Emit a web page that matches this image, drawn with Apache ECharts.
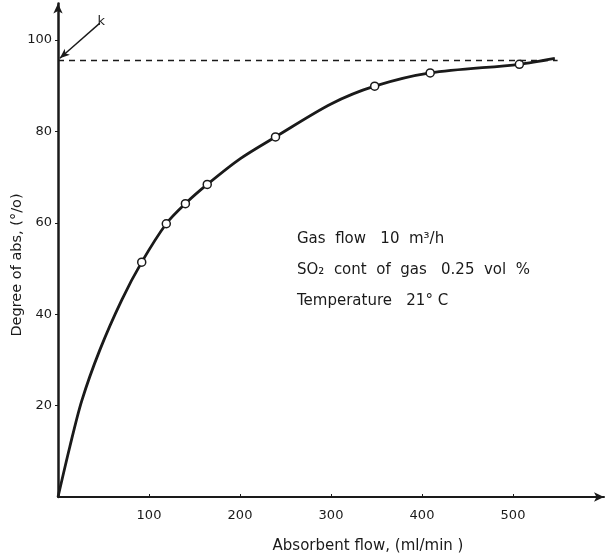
<!DOCTYPE html>
<html>
<head>
<meta charset="utf-8">
<script src="https://cdn.jsdelivr.net/npm/echarts@6/dist/echarts.min.js"></script>
<style>
  html, body { margin: 0; padding: 0; background: #fff; }
  #chart { width: 609px; height: 553px; }
</style>
</head>
<body>
<div id="chart"></div>
<script>
// measured points (absorbent flow ml/min, degree of absorption %)
const flowPoints = [92, 119, 140, 164, 239, 348, 409, 507];
const absPoints = [51.4, 59.8, 64.2, 68.4, 78.8, 89.9, 92.8, 94.7];

// drawn smooth curve
const curveFlow = [0, 13, 26, 46, 70, 92, 119, 140, 164, 200, 239, 300, 348, 409, 507, 546];
const curveAbs = [0, 11, 21, 32.2, 43.1, 51.4, 59.8, 64.2, 68.4, 74, 78.8, 86, 89.9, 92.8, 94.7, 96];

// asymptote (k)
const limitValue = 95.6;
const limitEnd = 549;

const xTicks = [100, 200, 300, 400, 500];
const yTicks = [20, 40, 60, 80, 100];

const notes = [
  'Gas  flow   10  m³/h',
  'SO₂  cont  of  gas   0.25  vol  %',
  'Temperature   21° C'
];

const font = 'DejaVu Sans';
const ink = '#1a1a1a';

const chart = echarts.init(document.getElementById('chart'));

const option = {
  backgroundColor: '#fff',
  animation: false,
  grid: { left: 58, right: 5, top: 3.5, bottom: 56, outerBoundsMode: 'none' },
  xAxis: {
    type: 'value',
    min: 0,
    max: 600,
    interval: 100,
    name: 'Absorbent flow, (ml/min )',
    nameLocation: 'middle',
    nameGap: 42,
    nameTextStyle: { fontFamily: font, fontSize: 15, color: ink, padding: [0, 0, 0, 74] },
    axisLine: { lineStyle: { color: ink, width: 2 }, symbol: ['none', 'arrow'], symbolSize: [7, 10] },
    axisTick: { length: 3, inside: true, lineStyle: { color: ink } },
    splitLine: { show: false },
    axisLabel: {
      fontFamily: font, fontSize: 13, color: ink, margin: 12,
      showMinLabel: false, showMaxLabel: false,
      formatter: v => (xTicks.indexOf(v) >= 0 ? String(v) : '')
    }
  },
  yAxis: {
    type: 'value',
    min: 0,
    max: 108,
    interval: 20,
    axisLine: { lineStyle: { color: ink, width: 2.5 }, symbol: ['none', 'arrow'], symbolSize: [7, 10] },
    axisTick: { length: 3, lineStyle: { color: ink } },
    splitLine: { show: false },
    axisLabel: {
      fontFamily: font, fontSize: 13, color: ink, margin: 6,
      showMinLabel: false, showMaxLabel: false,
      formatter: v => (yTicks.indexOf(v) >= 0 ? String(v) : '')
    }
  },
  graphic: [
    {
      type: 'text',
      x: 17,
      y: 265,
      rotation: Math.PI / 2,
      style: {
        text: 'Degree of abs, (°/o)',
        fontFamily: font,
        fontSize: 14.5,
        fill: ink,
        align: 'center',
        verticalAlign: 'middle'
      }
    },
    {
      type: 'text',
      left: 297,
      top: 224,
      style: {
        text: notes.join('\n'),
        fontFamily: font,
        fontSize: 15,
        lineHeight: 31,
        fill: ink
      }
    }
  ],
  series: [
    {
      name: 'curve',
      type: 'line',
      data: curveFlow.map((x, i) => [x, curveAbs[i]]),
      smooth: 0.3,
      showSymbol: false,
      lineStyle: { color: ink, width: 2.8 },
      z: 2,
      markLine: {
        silent: true,
        symbol: ['none', 'none'],
        label: { show: false },
        lineStyle: { color: ink, type: [6, 5], width: 1.3 },
        data: [
          [{ coord: [0, limitValue] }, { coord: [limitEnd, limitValue] }],
          [
            { coord: [46, 103.7], symbol: 'none', lineStyle: { type: 'solid', width: 1.4 },
              label: { show: true, position: 'start', formatter: 'k', fontFamily: font, fontSize: 13, color: ink, distance: 2 } },
            { coord: [2, limitValue + 0.4], symbol: 'arrow', symbolSize: [6, 10] }
          ]
        ]
      }
    },
    {
      name: 'measured',
      type: 'scatter',
      data: flowPoints.map((x, i) => [x, absPoints[i]]),
      symbol: 'circle',
      symbolSize: 8,
      itemStyle: { color: '#fff', borderColor: ink, borderWidth: 1.5, opacity: 1 },
      z: 3
    }
  ]
};

chart.setOption(option);
</script>
</body>
</html>
